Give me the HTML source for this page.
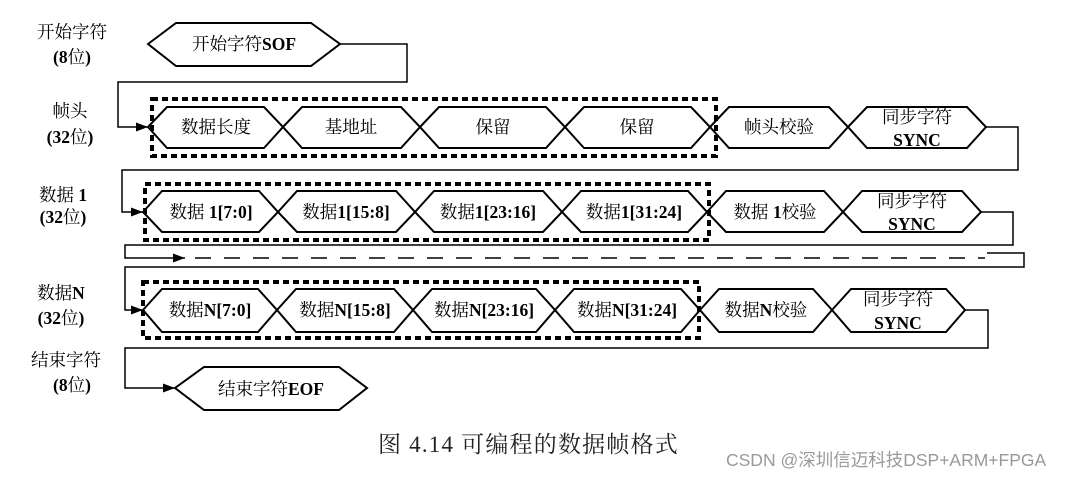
<!DOCTYPE html>
<html><head><meta charset="utf-8"><style>
body{margin:0;background:#fff;width:1075px;height:477px;overflow:hidden}
svg text{font-family:"Liberation Serif","Noto Serif CJK SC",serif;font-size:17.5px;fill:#000}
.b{font-weight:bold}
</style></head><body>
<svg width="1075" height="477" viewBox="0 0 1075 477">
<defs><marker id="a" markerWidth="12" markerHeight="9" refX="12" refY="4.5" orient="auto" markerUnits="userSpaceOnUse"><path d="M0,0L12,4.5L0,9z" fill="#000"/></marker></defs>
<g fill="none" stroke="#000" stroke-width="2">
<polygon points="148,44 176,23 311,23 340,44 311,66 176,66"/>
<polygon points="148,127 167,107 264,107 283,127 264,148 167,148"/>
<polygon points="283,127 302,107 401,107 420,127 401,148 302,148"/>
<polygon points="420,127 439,107 546,107 565,127 546,148 439,148"/>
<polygon points="565,127 584,107 691,107 710,127 691,148 584,148"/>
<polygon points="710,127 729,107 829,107 848,127 829,148 729,148"/>
<polygon points="848,127 867,107 967,107 986,127 967,148 867,148"/>
<polygon points="143,212 162,191 259,191 278,212 259,232 162,232"/>
<polygon points="278,212 297,191 396,191 415,212 396,232 297,232"/>
<polygon points="415,212 434,191 543,191 562,212 543,232 434,232"/>
<polygon points="562,212 581,191 688,191 707,212 688,232 581,232"/>
<polygon points="707,212 726,191 824,191 843,212 824,232 726,232"/>
<polygon points="843,212 862,191 962,191 981,212 962,232 862,232"/>
<polygon points="143,310 162,289 258,289 277,310 258,332 162,332"/>
<polygon points="277,310 296,289 394,289 413,310 394,332 296,332"/>
<polygon points="413,310 432,289 536,289 555,310 536,332 432,332"/>
<polygon points="555,310 574,289 681,289 700,310 681,332 574,332"/>
<polygon points="700,310 719,289 813,289 832,310 813,332 719,332"/>
<polygon points="832,310 851,289 946,289 965,310 946,332 851,332"/>
<polygon points="175,388 204,367 339,367 367,388 339,410 204,410"/>
</g>
<g fill="none" stroke="#000" stroke-width="4" stroke-dasharray="6,4">
<rect x="152" y="99" width="564" height="57"/>
<rect x="145" y="184" width="564" height="56"/>
<rect x="143" y="282" width="556" height="56"/>
</g>
<g fill="none" stroke="#000" stroke-width="1.5">
<polyline points="340,44 407,44 407,82 118,82 118,127 148,127" marker-end="url(#a)"/>
<polyline points="986,127 1018,127 1018,170 122,170 122,212 143,212" marker-end="url(#a)"/>
<polyline points="981,212 1013,212 1013,245 125,245 125,258 185,258" marker-end="url(#a)"/>
<line x1="195" y1="258" x2="985" y2="258" stroke-dasharray="16,13"/>
<polyline points="987,253 1024,253 1024,267 125,267 125,310 143,310" marker-end="url(#a)"/>
<polyline points="965,310 988,310 988,348 125,348 125,388 175,388" marker-end="url(#a)"/>
</g>
<g text-anchor="middle">
<text x="72" y="38">开始字符</text><text x="72" y="63"><tspan class="b">(8</tspan>位<tspan class="b">)</tspan></text>
<text x="70" y="117">帧头</text><text x="70" y="143"><tspan class="b">(32</tspan>位<tspan class="b">)</tspan></text>
<text x="63" y="201">数据 <tspan class="b">1</tspan></text><text x="63" y="223"><tspan class="b">(32</tspan>位<tspan class="b">)</tspan></text>
<text x="61" y="299">数据<tspan class="b">N</tspan></text><text x="61" y="324"><tspan class="b">(32</tspan>位<tspan class="b">)</tspan></text>
<text x="66" y="366">结束字符</text><text x="72" y="391"><tspan class="b">(8</tspan>位<tspan class="b">)</tspan></text>
<text x="244" y="50">开始字符<tspan class="b">SOF</tspan></text>
<text x="216" y="133">数据长度</text><text x="351" y="133">基地址</text>
<text x="493" y="133">保留</text><text x="637" y="133">保留</text>
<text x="779" y="133">帧头校验</text>
<text x="917" y="123">同步字符</text><text x="917" y="146" class="b">SYNC</text>
<text x="211" y="218">数据 <tspan class="b">1[7:0]</tspan></text><text x="346" y="218">数据<tspan class="b">1[15:8]</tspan></text>
<text x="488" y="218">数据<tspan class="b">1[23:16]</tspan></text><text x="634" y="218">数据<tspan class="b">1[31:24]</tspan></text>
<text x="775" y="218">数据 <tspan class="b">1</tspan>校验</text>
<text x="912" y="207">同步字符</text><text x="912" y="230" class="b">SYNC</text>
<text x="210" y="316">数据<tspan class="b">N[7:0]</tspan></text><text x="345" y="316">数据<tspan class="b">N[15:8]</tspan></text>
<text x="484" y="316">数据<tspan class="b">N[23:16]</tspan></text><text x="627" y="316">数据<tspan class="b">N[31:24]</tspan></text>
<text x="766" y="316">数据<tspan class="b">N</tspan>校验</text>
<text x="898" y="305">同步字符</text><text x="898" y="329" class="b">SYNC</text>
<text x="271" y="395">结束字符<tspan class="b">EOF</tspan></text>
</g>
<text x="378" y="452" style="font-size:23px;fill:#222;letter-spacing:1.2px">图 4.14  可编程的数据帧格式</text>
<text x="726" y="466" style="font-family:'Liberation Sans','Noto Sans CJK SC',sans-serif;font-size:17.5px;fill:#999">CSDN @深圳信迈科技DSP+ARM+FPGA</text>
</svg>
</body></html>
